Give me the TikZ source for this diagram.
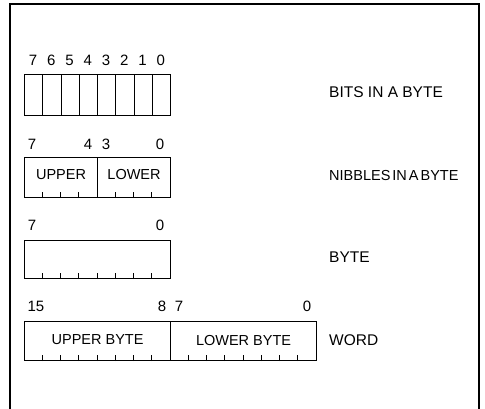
\documentclass[tikz,border=0pt]{standalone}
\usepackage{fontspec}
\setmainfont{Liberation Sans}
\usetikzlibrary{positioning, calc}

\tikzset{
	regbox/.style={draw, line width=1.1pt, inner sep=0pt, minimum height=40pt, anchor=north west},
	bitnum/.style={font=\fontsize{15}{17}\selectfont, inner sep=0pt},
	fieldtxt/.style={font=\fontsize{14.5}{16}\selectfont, inner sep=0pt},
	regname/.style={font=\fontsize{15.5}{17}\selectfont, anchor=west, inner sep=0pt},
	tick/.style={line width=0.9pt},
}

\begin{document}
\begin{tikzpicture}[x=1pt, y=-1pt]
	\useasboundingbox (0,0) rectangle (485,409);
	% marco
	\draw[line width=1.2pt] (10,409) -- (10,4) -- (479,4) -- (479,409);
	% bits in a byte
	\begin{scope}
		\foreach \b [count=\k from 0] in {7,...,0}{
			\node[regbox, minimum width=18.25pt, minimum height=41pt] (bit\b) at ({24+\k*18.25},74) {};
			\node[bitnum] (bn\b) at ({33.1+\k*18.25},60) {\b};}
		\node[regname] (bitsname) at (329,92) {BITS IN A BYTE};
	\end{scope}
	% nibbles in a byte
	\begin{scope}
		\node[regbox, minimum width=73pt] (upnib) at (24,157) {};
		\node[regbox, minimum width=73pt] (lonib) at (97,157) {};
		\node[fieldtxt] (uptxt) at (upnib.center) [yshift=3pt] {UPPER};
		\node[fieldtxt] (lotxt) at (lonib.center) [yshift=3pt] {LOWER};
		\foreach \k in {1,...,3}{
			\draw[tick] (upnib.south west) ++(\k*18.25,0) -- ++(0,-6);
			\draw[tick] (lonib.south west) ++(\k*18.25,0) -- ++(0,-6);}
		\node[bitnum] (nb7) at (32,144) {7};
		\node[bitnum] (nb4) at (88,144) {4};
		\node[bitnum] (nb3) at (106,144) {3};
		\node[bitnum] (nb0) at (160,144) {0};
		\node[regname, font=\fontsize{14.5}{17}\selectfont] (nibname) at (329,176)
			{NIBBLES\hspace{2pt}IN\hspace{2pt}A\hspace{2pt}BYTE};
	\end{scope}
	% byte
	\begin{scope}
		\node[regbox, minimum width=146pt, minimum height=38pt] (bytebox) at (24,240) {};
		\foreach \k in {1,...,7}{
			\draw[tick] (bytebox.south west) ++(\k*18.25,0) -- ++(0,-6);}
		\node[bitnum] (by7) at (32,225) {7};
		\node[bitnum] (by0) at (160,225) {0};
		\node[regname] (bytename) at (329,257) {BYTE};
	\end{scope}
	% word
	\begin{scope}
		\node[regbox, minimum width=146pt, minimum height=39pt] (upbyte) at (24,321) {};
		\node[regbox, minimum width=146pt, minimum height=39pt] (lobyte) at (170,321) {};
		\node[fieldtxt] (ubtxt) at (upbyte.center) [yshift=1pt] {UPPER BYTE};
		\node[fieldtxt] (lbtxt) at (lobyte.center) [yshift=1pt] {LOWER BYTE};
		\foreach \k in {1,...,7}{
			\draw[tick] (upbyte.south west) ++(\k*18.25,0) -- ++(0,-6);
			\draw[tick] (lobyte.south west) ++(\k*18.25,0) -- ++(0,-6);}
		\node[bitnum] (wd15) at (36,306) {15};
		\node[bitnum] (wd8) at (162,306) {8};
		\node[bitnum] (wd7) at (179,306) {7};
		\node[bitnum] (wd0) at (307,306) {0};
		\node[regname] (wordname) at (329,340) {WORD};
	\end{scope}
\end{tikzpicture}
\end{document}
